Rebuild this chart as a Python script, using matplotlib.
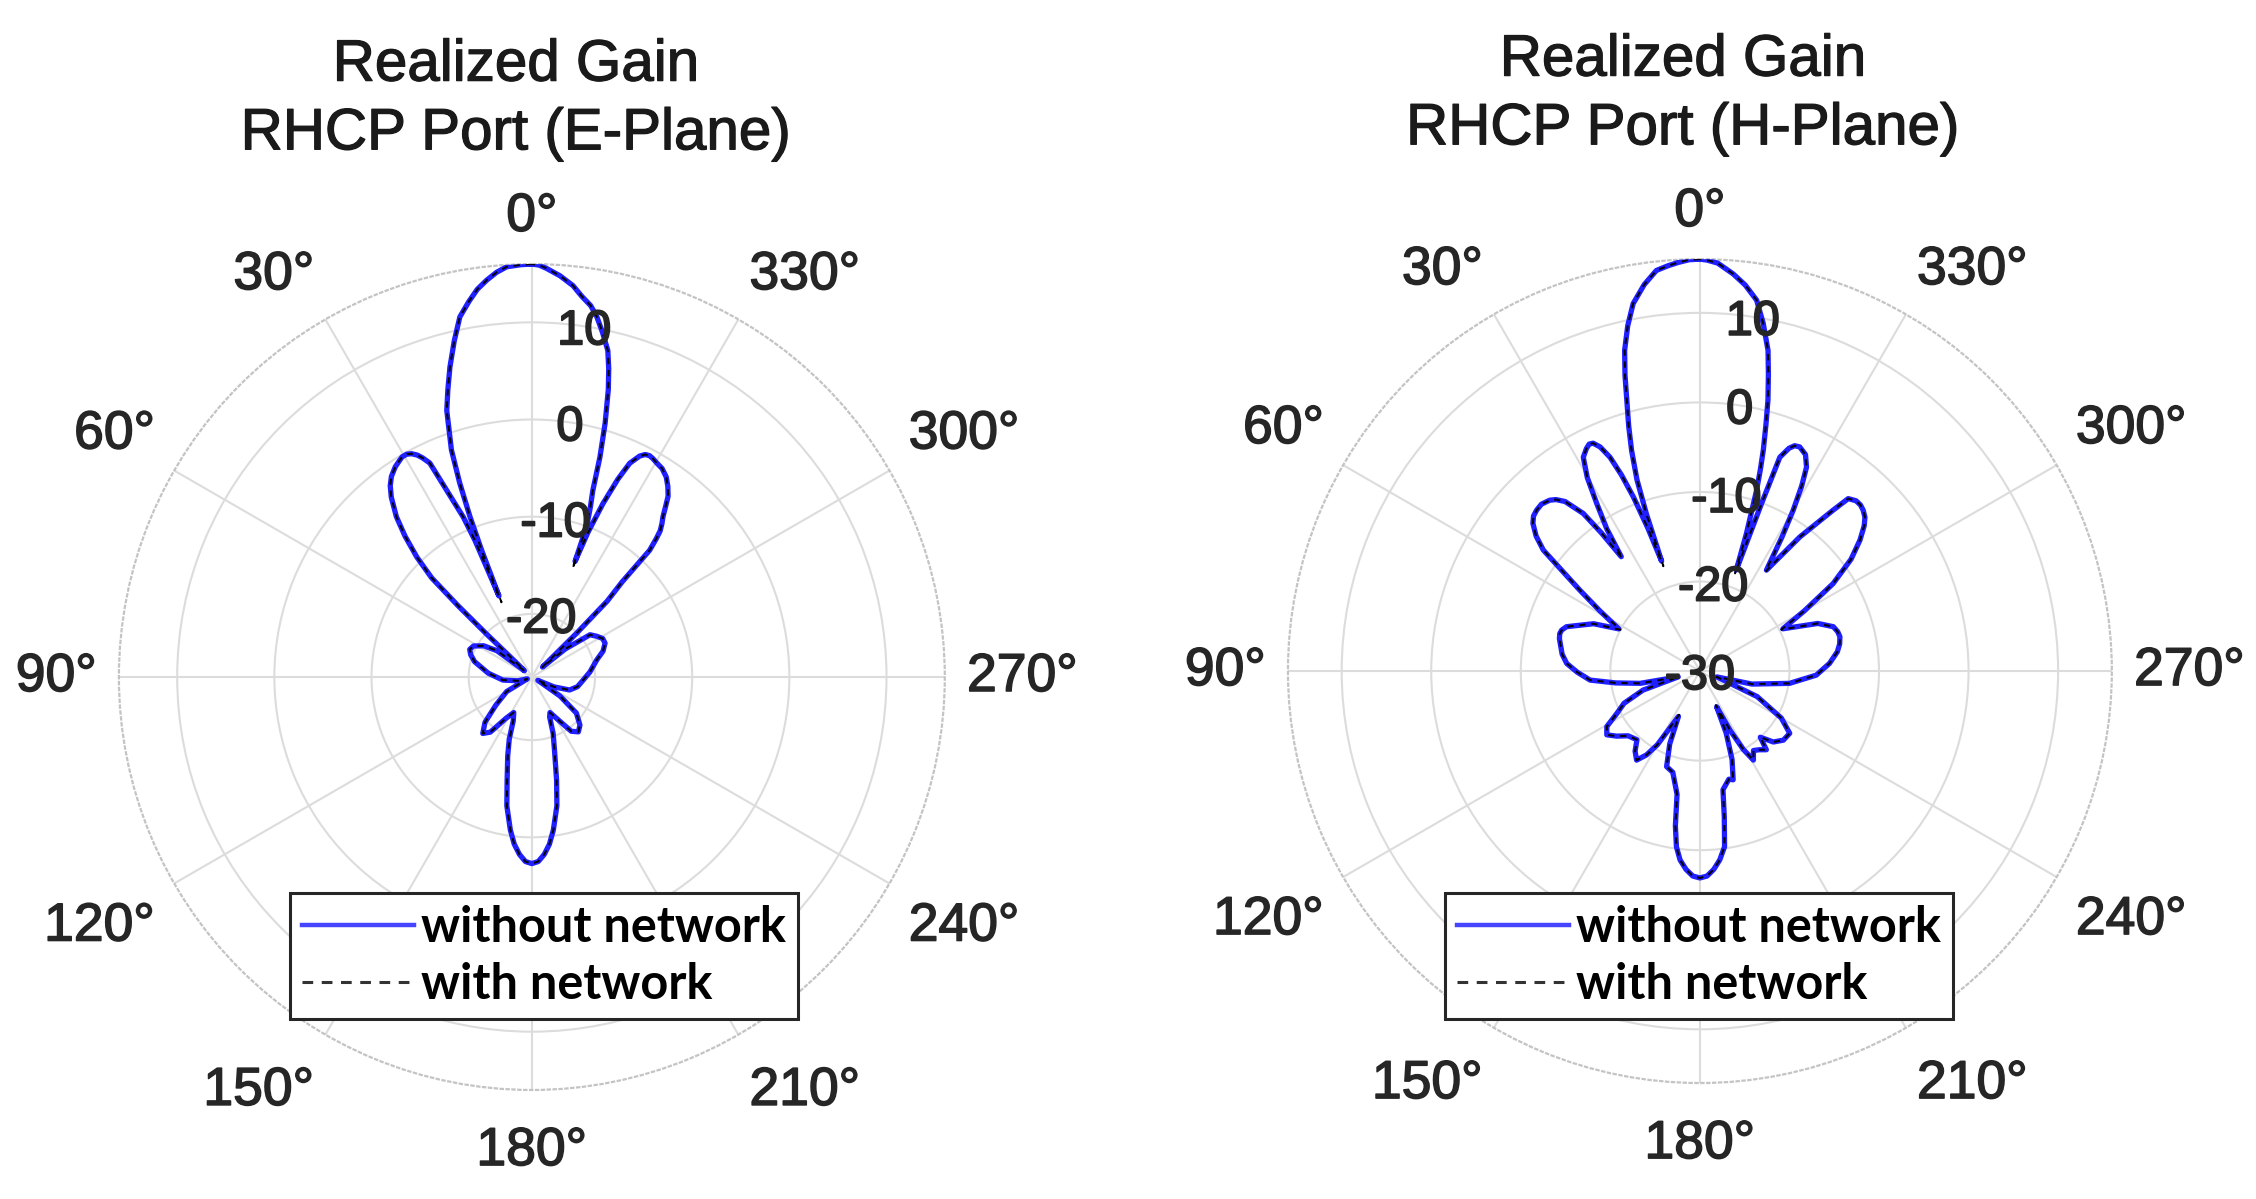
import numpy as np
import matplotlib
matplotlib.use('Agg')
import matplotlib.pyplot as plt
import matplotlib.patheffects as pe
from matplotlib.lines import Line2D

plt.rcParams['font.family'] = ['Liberation Sans', 'DejaVu Sans']

# E-plane realized gain (dB), angle in degrees counter-clockwise from boresight
E_THETA = [0, 1.5, 3.5, 5, 6.5, 8, 9.5, 11.3, 13, 14.8, 16.3, 17.7, 19.5, 20.4, 21.1, 21.6, 22.1, 22.6,
           23.2, 24.5, 25.5, 26.5, 27.3, 28.3, 29.3, 30.5, 31.5, 33, 35, 36.5, 38, 39, 40.2, 42, 43.8,
           45.3, 46.0, 46.5, 47.5, 50, 53, 57, 62, 66, 70, 75, 85, 96, 105, 112, 120, 128, 134, 139,
           143, 148, 153, 157, 160, 163, 166.5, 169, 172, 174, 176, 178, 180, 182, 184, 186, 188, 191,
           193.5, 197, 200.7, 204, 207, 211, 216, 220.3, 225, 231, 236, 241, 246, 251, 258, 266.7,
           275, 284.7, 290, 294.8, 298.5, 302, 306, 310, 313, 314.4, 315.2, 316.5, 317.1, 318,
           318.7, 319.7, 320.7, 322, 323, 324.5, 326.1, 328, 329.7, 331, 332, 333, 334, 335.4, 336.5,
           337.7, 338.8, 339.5, 340, 341, 341.9, 342.8, 343.9, 345.1, 346, 346.9, 348.5, 349.8, 351,
           352.5, 354, 356, 358, 359, 360]
E_WITHOUT = [16.0, 15.95, 15.8, 15.3, 14.6, 13.8, 12.7, 11.3, 9.0, 6.5, 4.3, 2.3, -1.7, -5.2, -8.8, -12.4, -17.5, -11.3,
             -8.6, -5.4, -2.1, -1.3, -0.8, -0.4, -0.2, -0.2, -0.4, -0.7, -1.3, -2.0, -3.0, -3.9, -4.9, -7.0, -9.4,
             -12.0, -16.0, -20.0, -24.5, -25.5, -22.0, -20.6, -19.7, -19.5, -19.8, -20.4, -22.0, -23.5, -25.0, -26.0, -23.5, -21.8, -19.8, -18.8,
             -19.4, -21.5, -22.4, -21.6, -19.7, -18.0, -15.6, -13.0, -10.6, -9.2, -8.2, -7.5, -7.3, -7.5, -8.2, -9.2, -10.6, -13.0,
             -15.6, -18.5, -20.3, -22.0, -22.4, -21.5, -19.6, -19.1, -19.5, -20.6, -23.0, -25.8, -24.0, -22.4, -21.7, -21.2,
             -20.5, -19.6, -18.7, -18.2, -18.2, -18.6, -19.1, -22.0, -25.0, -20.0, -15.5, -13.0, -8.7, -7.4,
             -6.5, -5.8, -5.2, -4.1, -3.2, -2.4, -1.7, -1.2, -1.0, -0.8, -0.7, -0.8, -1.2, -2.3, -4.3,
             -7.2, -10.5, -13.8, -10.0, -8.0, -6.3, -2.8, 0.7, 4.1, 6.2, 8.0, 9.8, 11.2, 12.2,
             13.0, 14.0, 14.9, 15.6, 15.9, 16.0]
E_WITH = [16.0, 15.95, 15.8, 15.3, 14.6, 13.8, 12.7, 11.3, 9.0, 6.5, 4.3, 2.3, -1.7, -5.2, -8.8, -12.6, -18.2, -11.4,
          -8.6, -5.4, -2.1, -1.3, -0.8, -0.4, -0.2, -0.2, -0.4, -0.7, -1.3, -2.0, -3.0, -3.9, -4.9, -7.0, -9.4,
          -12.0, -16.0, -20.2, -24.6, -25.5, -22.0, -20.6, -19.7, -19.5, -19.8, -20.4, -22.0, -23.5, -25.0, -26.0, -23.5, -21.8, -19.8, -18.8,
          -19.4, -21.5, -22.4, -21.6, -19.9, -18.0, -15.6, -13.0, -10.6, -9.2, -8.2, -7.5, -7.3, -7.5, -8.2, -9.2, -10.6, -13.0,
          -15.6, -18.5, -20.5, -22.0, -22.4, -21.5, -19.6, -19.1, -19.5, -20.6, -23.0, -25.8, -24.0, -22.4, -21.7, -21.2,
          -20.5, -19.6, -18.7, -18.2, -18.2, -18.6, -19.1, -22.0, -25.0, -20.0, -15.5, -13.0, -8.7, -7.4,
          -6.5, -5.8, -5.2, -4.1, -3.2, -2.4, -1.7, -1.2, -1.0, -0.8, -0.7, -0.8, -1.2, -2.3, -4.3,
          -7.2, -10.8, -14.6, -10.2, -8.0, -6.3, -2.8, 0.7, 4.1, 6.2, 8.0, 9.8, 11.2, 12.2,
          13.0, 14.0, 14.9, 15.6, 15.9, 16.0]

# H-plane realized gain (dB)
H_THETA = [0, 1.5, 3, 4.5, 6.2, 8.2, 10.3, 11.8, 13.2, 14.2, 15.1, 16.2, 17.2, 18.2, 18.8, 19.2, 20.0,
           20.9, 21.8, 22.8, 24, 25.1, 26, 27.0, 28.6, 30.2, 31.6, 33.2, 34.5, 35.5, 36.5, 38.5, 40,
           41.3, 43.5, 45.4, 47, 48.5, 50.5, 52.3, 56, 59, 62.5, 66, 71.6, 73.5, 75, 77, 78.8, 83, 86.7,
           90.5, 94.7, 98, 101.6, 105, 108.5, 113, 117, 120.8, 124.4, 128, 132, 137.5, 141, 144.6,
           147.5, 150, 154.7, 157.5, 160.8, 165, 169.5, 171, 172.4, 174, 176, 178, 180, 182, 184, 186,
           188, 189.5, 191, 195, 197, 200, 203, 205.1, 207, 209, 211, 214, 217, 220.2, 222.4, 226,
           230.4, 235.3, 240, 246, 251, 256, 262.2, 268, 273.4, 278, 281, 283.8, 286, 288.4, 292, 297,
           300, 303.3, 306.5, 309.3, 311.5, 313, 314.6, 316, 317.5, 319.3, 320.4, 323.3, 326.6, 328.5,
           329.9, 331.2, 332.4, 334, 336, 337.2, 338.2, 339.5, 339.8, 340.2, 341.3, 342.6, 343.3, 344,
           345, 345.9, 347, 348, 349.7, 351.3, 353.3, 355.2, 357.5, 359, 360]
H_WITHOUT = [16.0, 15.95, 15.7, 15.4, 15.0, 13.6, 11.7, 9.4, 6.8, 4.1, 1.3, -1.5, -4.2, -7.5, -11.5, -17.0, -13.0,
             -9.2, -6.4, -4.1, -2.6, -1.9, -1.8, -2.1, -2.8, -5.0, -8.0, -11.0, -14.5, -11.0, -8.1, -5.8, -5.0,
             -4.6, -4.3, -4.4, -4.6, -5.1, -6.3, -7.9, -13.8, -17.0, -19.8, -17.0, -14.3, -13.9, -13.8, -13.9, -14.1, -14.5, -15.1,
             -16.3, -17.7, -20.5, -23.2, -27.5, -23.3, -20.8, -19.6, -17.9, -17.4, -18.2, -19.2, -19.6, -18.5, -17.8,
             -18.9, -20.5, -24.4, -21.2, -18.7, -18.3, -16.0, -12.5, -10.2, -8.8, -7.8, -7.1, -6.9, -7.1, -7.8, -8.8,
             -10.2, -13.5, -16.5, -17.5, -17.3, -19.5, -22.5, -25.6, -22.6, -20.0, -18.4, -19.3, -19.0, -18.5, -20.0, -18.6,
             -17.9, -17.8, -19.5, -23.0, -28.0, -24.0, -19.9, -17.0, -15.5, -14.5, -14.1, -13.9, -14.0, -14.3, -15.8, -19.6,
             -16.5, -12.2, -9.0, -6.9, -5.5, -4.8, -4.4, -4.2, -4.2, -4.6, -6.7, -11.3, -16.5, -12.5,
             -9.2, -6.4, -4.3, -3.1, -2.6, -2.7, -3.2, -4.5, -10.0, -18.0, -13.8, -8.8, -6.5, -4.3,
             -1.5, 1.2, 4.0, 6.6, 9.5, 11.9, 13.4, 14.5, 15.6, 15.9, 16.0]
H_WITH = [16.0, 15.95, 15.7, 15.4, 15.0, 13.6, 11.7, 9.4, 6.8, 4.1, 1.3, -1.5, -4.2, -7.5, -11.6, -17.6, -13.1,
          -9.2, -6.4, -4.1, -2.6, -1.9, -1.8, -2.1, -2.8, -5.0, -8.0, -11.0, -14.7, -11.0, -8.1, -5.8, -5.0,
          -4.6, -4.3, -4.4, -4.6, -5.1, -6.3, -7.9, -13.8, -17.0, -20.0, -17.0, -14.3, -13.9, -13.8, -13.9, -14.1, -14.5, -15.1,
          -16.3, -17.7, -20.5, -23.2, -27.5, -23.3, -20.8, -19.6, -17.9, -17.4, -18.2, -19.2, -19.6, -18.5, -17.8,
          -18.9, -20.5, -24.6, -21.2, -18.7, -18.3, -16.0, -12.5, -10.2, -8.8, -7.8, -7.1, -6.9, -7.1, -7.8, -8.8,
          -10.2, -13.5, -16.5, -17.5, -17.3, -19.5, -22.5, -25.8, -22.6, -20.0, -18.4, -19.3, -19.0, -18.5, -20.0, -18.6,
          -17.9, -17.8, -19.5, -23.0, -28.0, -24.0, -19.9, -17.0, -15.5, -14.5, -14.1, -13.9, -14.0, -14.3, -15.8, -19.8,
          -16.5, -12.2, -9.0, -6.9, -5.5, -4.8, -4.4, -4.2, -4.2, -4.6, -6.7, -11.3, -16.7, -12.5,
          -9.2, -6.4, -4.3, -3.1, -2.6, -2.7, -3.2, -4.5, -10.2, -18.4, -13.8, -8.8, -6.5, -4.3,
          -1.5, 1.2, 4.0, 6.6, 9.5, 11.9, 13.4, 14.5, 15.6, 15.9, 16.0]

THETA_TICKS = list(range(0, 360, 30))
THETA_LABELS = [f'{t}°' for t in THETA_TICKS]
E_RTICKS = [-20, -10, 0, 10]
H_RTICKS = [-30, -20, -10, 0, 10]
E_RLIM = (-26.5, 16.0)
H_RLIM = (-30.0, 16.0)
TITLES = ['Realized Gain\nRHCP Port (E-Plane)', 'Realized Gain\nRHCP Port (H-Plane)']
LEGEND_LABELS = ['without network', 'with network']

TEXT_COL = '#262626'
GRID_COL = '#dcdcdc'
BLUE = '#1f1fff'


def heavy(col, w=1.1):
    return [pe.withStroke(linewidth=w, foreground=col)]


fig = plt.figure(figsize=(22.56, 11.99), dpi=100)


def draw_panel(rect, theta, g_without, g_with, rlim, rticks, title, title_xy, legend_xy):
    ax = fig.add_axes(rect, projection='polar')
    ax.set_theta_zero_location('N')
    ax.set_theta_direction(1)

    th = np.deg2rad(theta)
    ax.plot(th, g_without, color=BLUE, lw=3.8, zorder=3)
    ax.plot(th, g_with, color='black', lw=1.4, ls=(0, (3.2, 3.0)), zorder=4)

    ax.set_ylim(*rlim)
    ax.set_yticks(rticks)
    ax.set_yticklabels([])
    ax.set_xticks(np.deg2rad(THETA_TICKS))
    ax.set_xticklabels([])
    ax.tick_params(length=0)
    ax.grid(True, color=GRID_COL, lw=1.5)
    ax.spines['polar'].set_color('#c4c4c4')
    ax.spines['polar'].set_linestyle(':')
    ax.spines['polar'].set_linewidth(1.6)

    # angle labels sitting just outside the outer ring
    for t, lab in zip(THETA_TICKS, THETA_LABELS):
        ux, uy = -np.sin(np.deg2rad(t)), np.cos(np.deg2rad(t))
        ha = 'center' if abs(ux) < 0.01 else ('right' if ux < 0 else 'left')
        va = 'center' if abs(uy) < 0.01 else ('bottom' if uy > 0 else 'top')
        gy = 16 if uy > 0 else 26
        ax.annotate(lab, xy=(np.deg2rad(t), rlim[1]), xytext=(16 * ux, gy * uy),
                    textcoords='offset points', ha=ha, va=va, fontsize=38.5,
                    color=TEXT_COL, annotation_clip=False, path_effects=heavy(TEXT_COL))

    # radial labels
    for r in rticks:
        ax.annotate(str(r), xy=(np.deg2rad(-8.5), r), xytext=(0, -4), textcoords='offset points',
                    ha='center', va='center', fontsize=35, color=TEXT_COL, zorder=6,
                    annotation_clip=False, path_effects=heavy(TEXT_COL, 1.3))

    fig.text(title_xy[0], title_xy[1], title, ha='center', va='center',
             fontsize=42, linespacing=1.35, color='#1a1a1a', path_effects=heavy('#1a1a1a', 0.9))

    # legend keys drawn like the MATLAB legend (coarser dashes)
    keys = [Line2D([], [], color='#4545ff', lw=3.2),
            Line2D([], [], color='#333333', lw=2.2, ls=(0, (3.5, 2.8)))]
    leg = ax.legend(keys, LEGEND_LABELS, loc='center', bbox_to_anchor=legend_xy,
                    bbox_transform=fig.transFigure,
                    prop={'family': 'Lato', 'weight': 'bold', 'size': 35},
                    frameon=True, fancybox=False, framealpha=1, edgecolor=TEXT_COL,
                    borderpad=0.25, handlelength=2.3, handletextpad=0.15,
                    labelspacing=0.25, borderaxespad=0)
    leg.get_frame().set_linewidth(2.2)
    return ax


draw_panel([0.0527, 0.0909, 0.3661, 0.6889], E_THETA, E_WITHOUT, E_WITH, E_RLIM, E_RTICKS,
           TITLES[0], (0.2287, 0.9166), (0.2411, 0.2027))
draw_panel([0.5709, 0.0967, 0.3652, 0.6872], H_THETA, H_WITHOUT, H_WITH, H_RLIM, H_RTICKS,
           TITLES[1], (0.746, 0.9208), (0.7531, 0.2027))

fig.savefig('out.png', dpi=100)
